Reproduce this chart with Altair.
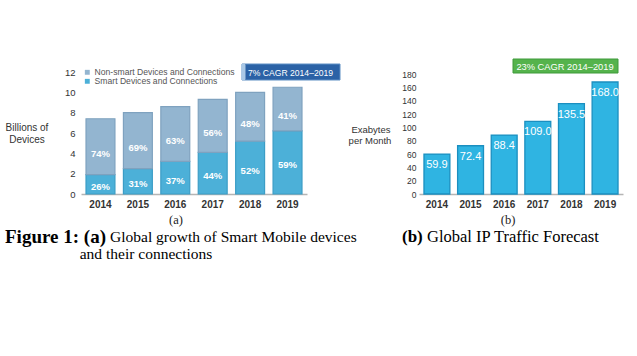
import altair as alt
import pandas as pd

years = ["2014", "2015", "2016", "2017", "2018", "2019"]
smart = [1.9, 2.5, 3.2, 4.1, 5.2, 6.2]
nonsmart = [5.5, 5.5, 5.4, 5.2, 4.8, 4.3]
smart_pct = ["26%", "31%", "37%", "44%", "52%", "59%"]
nonsmart_pct = ["74%", "69%", "63%", "56%", "48%", "41%"]
traffic = [59.9, 72.4, 88.4, 109.0, 135.5, 168.0]
traffic_lbl = ["59.9", "72.4", "88.4", "109.0", "135.5", "168.0"]

NS = "Non-smart Devices and Connections"
SM = "Smart Devices and Connections"

rows = []
for i, y in enumerate(years):
    rows.append({"year": y, "cat": SM, "order": 0, "value": smart[i], "lbl": smart_pct[i]})
    rows.append({"year": y, "cat": NS, "order": 1, "value": nonsmart[i], "lbl": nonsmart_pct[i]})
df_a = pd.DataFrame(rows)
df_b = pd.DataFrame({"year": years, "value": traffic, "lbl": traffic_lbl})

W, H = 637, 356
FONT = "Liberation Sans"
SERIF = "Liberation Serif"


def xaxis():
    return alt.Axis(orient="bottom", offset=194 - H, ticks=False, domainColor="#b5b5b5",
                    domainWidth=1.5, labelFont=FONT, labelFontWeight="bold", labelFontSize=10,
                    labelColor="#333333", labelPadding=5, labelAngle=0, grid=False)


def yaxis(off, vals, size, pad):
    return alt.Axis(orient="left", offset=off, ticks=False, domain=False, grid=False,
                    values=vals, labelFont=FONT, labelFontSize=size, labelColor="#333333",
                    labelPadding=pad, labelOverlap=False)


xa_scale = alt.Scale(range=[81, 307], paddingInner=0.227, paddingOuter=0.134)
ya_scale = alt.Scale(domain=[0, 12], range=[194, 72], nice=False, zero=True)
ya_vals = [0, 2, 4, 6, 8, 10, 12]

base_a = alt.Chart(df_a).transform_stack(
    stack="value", as_=["y0", "y1"], groupby=["year"], sort=[alt.SortField("order")]
).transform_calculate(mid="(datum.y0 + datum.y1) / 2")

bars_a = base_a.mark_bar(strokeWidth=1.2).encode(
    x=alt.X("year:N", title=None, scale=xa_scale, axis=xaxis()),
    y=alt.Y("y0:Q", title=None, scale=ya_scale, axis=yaxis(-81, ya_vals, 9.5, 6)),
    y2="y1:Q",
    color=alt.Color("cat:N", scale=alt.Scale(domain=[NS, SM], range=["#93b5d0", "#4cb0d8"]),
                    legend=alt.Legend(orient="none", legendX=83, legendY=68, title=None,
                                      symbolType="square", symbolSize=24, symbolStrokeWidth=0,
                                      labelFont=FONT, labelFontSize=8.6, labelColor="#555555",
                                      labelOffset=3, rowPadding=0, labelLimit=300)),
    stroke=alt.Stroke("cat:N", scale=alt.Scale(domain=[NS, SM], range=["#7fa2bf", "#3b9dc6"]),
                      legend=None),
)


def seg_text(cat, dy):
    return base_a.transform_filter(alt.datum.cat == cat).mark_text(
        font=FONT, fontWeight="bold", fontSize=9.5, color="white", dy=dy
    ).encode(
        x=alt.X("year:N", title=None, scale=xa_scale, axis=xaxis()),
        y=alt.Y("mid:Q", title=None, scale=ya_scale, axis=yaxis(-81, ya_vals, 9.5, 6)),
        text="lbl:N",
    )


left = alt.layer(bars_a, seg_text(NS, 7), seg_text(SM, 3))

xb_scale = alt.Scale(range=[419, 623], paddingInner=0.23, paddingOuter=0.148)
yb_scale = alt.Scale(domain=[0, 180], range=[194, 74], nice=False, zero=True)
yb_vals = list(range(0, 181, 20))

bars_b = alt.Chart(df_b).mark_bar(color="#2fb4e2", stroke="#1b8fc0", strokeWidth=1.3).encode(
    x=alt.X("year:N", title=None, scale=xb_scale, axis=xaxis()),
    y=alt.Y("value:Q", title=None, scale=yb_scale, axis=yaxis(-419, yb_vals, 8.5, 3)),
)
txt_b = alt.Chart(df_b).mark_text(font=FONT, fontSize=11, color="white", dy=11).encode(
    x=alt.X("year:N", title=None, scale=xb_scale, axis=xaxis()),
    y=alt.Y("value:Q", title=None, scale=yb_scale, axis=yaxis(-419, yb_vals, 8.5, 3)),
    text="lbl:N",
)
right = alt.layer(bars_b, txt_b)

one = pd.DataFrame({"k": [0]})
ann = alt.Chart(one)


def t(s, x, y, size, font=FONT, weight="normal", color="#333333", align="center"):
    return ann.mark_text(text=s, font=font, fontSize=size, fontWeight=weight, color=color,
                         align=align, baseline="middle").encode(x=alt.value(x), y=alt.value(y))


def box(x1, x2, y1, y2, fill, stroke):
    return ann.mark_rect(fill=fill, stroke=stroke, strokeWidth=1).encode(
        x=alt.value(x1), x2=alt.value(x2), y=alt.value(y1), y2=alt.value(y2))


annots = [
    t("Billions of", 27, 128, 10),
    t("Devices", 27, 139.5, 10),
    t("Exabytes", 371, 130, 9.5),
    t("per Month", 370, 140.5, 9.5),
    box(242, 340, 64, 80, "#2b62a6", "#5f8fc4"),
    box(242, 245, 64.5, 79.5, "#a9c8e6", "#a9c8e6"),
    t("7% CAGR 2014\u20132019", 248, 72.5, 8.6, color="white", align="left"),
    box(513, 618, 59, 73, "#55b34c", "#3f9a3a"),
    t("23% CAGR 2014\u20132019", 565, 66.5, 9.3, color="white"),
    t("(a)", 176, 220, 12.5, font=SERIF, color="#222222"),
    t("(b)", 508, 220, 12.5, font=SERIF, color="#222222"),
    t("Figure 1: (a)", 5, 237, 19, font=SERIF, weight="bold", color="black", align="left"),
    t("Global growth of Smart Mobile devices", 110, 237, 15.5, font=SERIF, color="black", align="left"),
    t("and their connections", 146, 254, 15.5, font=SERIF, color="black"),
    t("(b)", 402, 237, 17, font=SERIF, weight="bold", color="black", align="left"),
    t("Global IP Traffic Forecast", 427, 237, 16.5, font=SERIF, color="black", align="left"),
]

chart = alt.layer(left, right, *annots).resolve_scale(
    x="independent", y="independent", color="independent", stroke="independent"
).properties(
    width=W, height=H, autosize=alt.AutoSizeParams(type="none"), padding=0, background="white"
).configure_view(stroke=None)

chart.save("out.html", embed_options={"renderer": "svg", "actions": False})
